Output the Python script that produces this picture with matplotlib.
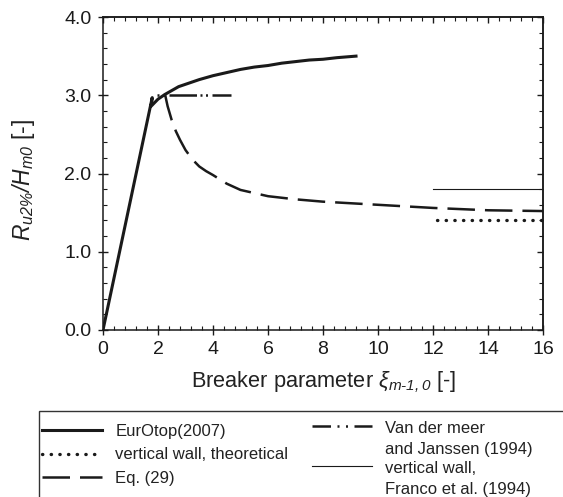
import matplotlib
matplotlib.use("Agg")
import matplotlib.pyplot as plt
from matplotlib.ticker import MultipleLocator, FormatStrFormatter
from matplotlib.patches import Rectangle
from matplotlib.legend_handler import HandlerLine2D

plt.rcParams['font.family'] = ['Liberation Sans', 'DejaVu Sans']
plt.rcParams['mathtext.fontset'] = 'custom'
plt.rcParams['mathtext.it'] = 'Liberation Sans:italic'
plt.rcParams['mathtext.rm'] = 'Liberation Sans:italic'

# values
eurotop_x = [0, 1.79, 1.75, 2.0, 2.25, 2.5, 2.75, 3.0, 3.5, 4.0, 4.5, 5.0, 5.5,
             6.0, 6.5, 7.0, 7.5, 8.0, 8.5, 9.2]
eurotop_y = [0, 2.97, 2.86, 2.95, 3.01, 3.06, 3.11, 3.14, 3.20, 3.25, 3.29, 3.33,
             3.36, 3.38, 3.41, 3.43, 3.45, 3.46, 3.48, 3.50]

vdm_x = [1.95, 4.65]
vdm_y = [3.0, 3.0]

eq29_x = [2.25, 2.35, 2.5, 2.65, 2.8, 3.0, 3.25, 3.5, 3.75, 4.0, 4.5, 5.0, 5.5,
          6.0, 7.0, 8.0, 9.0, 10.0, 11.0, 12.0, 13.0, 14.0, 15.0, 16.0]
eq29_y = [3.02, 2.86, 2.68, 2.54, 2.43, 2.30, 2.18, 2.09, 2.03, 1.98, 1.87, 1.79,
          1.75, 1.71, 1.67, 1.64, 1.62, 1.60, 1.58, 1.56, 1.545, 1.53, 1.525, 1.52]

theo_x = [12.15, 16.0]
theo_y = [1.4, 1.4]

franco_x = [12.0, 16.0]
franco_y = [1.8, 1.8]

labels_left = ["EurOtop(2007)", "vertical wall, theoretical", "Eq. (29)"]
labels_right = ["Van der meer\nand Janssen (1994)", "vertical wall,\nFranco et al. (1994)"]


class FirstLineHandler(HandlerLine2D):
    # put the handle level with the first text line of a two-line label
    def create_artists(self, legend, orig_handle, xdescent, ydescent, width,
                       height, fontsize, trans):
        return super().create_artists(legend, orig_handle, xdescent, ydescent - 19,
                                      width, height, fontsize, trans)


c = '#1a1a1a'
W, H = 563, 497
fig = plt.figure(figsize=(W / 100, H / 100), dpi=100)
ax = fig.add_axes([103 / W, 1 - 330 / H, 440 / W, 313 / H])

l1, = ax.plot(eurotop_x, eurotop_y, color=c, lw=2.2, solid_joinstyle='round')
l2, = ax.plot(theo_x, theo_y, color=c, lw=2.4, linestyle=(0, (0.1, 2.5)),
              dash_capstyle='round', clip_on=False)
l3, = ax.plot(eq29_x, eq29_y, color=c, lw=1.8, dashes=(11, 4))
l4, = ax.plot(vdm_x, vdm_y, color=c, lw=1.8,
              linestyle=(0, (0.8, 1.4, 0.8, 1.8, 11, 1.4)))
l5, = ax.plot(franco_x, franco_y, color=c, lw=0.8)

ax.set_xlim(0, 16)
ax.set_ylim(0, 4)
ax.xaxis.set_major_locator(MultipleLocator(2))
ax.xaxis.set_minor_locator(MultipleLocator(0.4))
ax.yaxis.set_major_locator(MultipleLocator(1))
ax.yaxis.set_minor_locator(MultipleLocator(0.2))
ax.yaxis.set_major_formatter(FormatStrFormatter('%.1f'))

for s in ax.spines.values():
    s.set_linewidth(1.1)
    s.set_color(c)

ax.tick_params(which='major', direction='inout', length=6.5, width=1.0,
               labelsize=14, colors=c, pad=5)
ax.tick_params(which='minor', direction='in', length=3, width=0.8, colors=c)

# top and right: inward ticks only
top = ax.secondary_xaxis('top')
top.xaxis.set_major_locator(MultipleLocator(2))
top.xaxis.set_minor_locator(MultipleLocator(0.4))
right = ax.secondary_yaxis('right')
right.yaxis.set_major_locator(MultipleLocator(1))
right.yaxis.set_minor_locator(MultipleLocator(0.2))
for sec in (top, right):
    sec.tick_params(which='major', direction='in', length=4, width=1.0, colors=c,
                    labeltop=False, labelright=False)
    sec.tick_params(which='minor', direction='in', length=3, width=0.8, colors=c)
    for s in sec.spines.values():
        s.set_linewidth(1.1)
        s.set_color(c)

ax.set_xlabel(r'Breaker parameter $\xi_{m\text{-}1,0}$ [-]', fontsize=15.7,
              color='#222222', labelpad=8)
ax.set_ylabel(r'$R_{u2\%}/H_{m0}$ [-]', fontsize=16.5, color='#222222')
ax.yaxis.set_label_coords(-0.15, 0.48)

# legend frame, cut by the figure edge like the reference
fig.add_artist(Rectangle((39 / W, -0.2), 1.0, 0.2 + 1 - 411 / H,
                         transform=fig.transFigure, fill=False,
                         edgecolor='#333333', lw=1.0))

leg_kw = dict(frameon=False, fontsize=12, handlelength=3.6, handletextpad=0.8,
              borderaxespad=0, borderpad=0, labelcolor='#222222')
fig.legend([l1, l2, l3], labels_left, loc='upper left',
           bbox_to_anchor=(42 / W, 1 - 424 / H), labelspacing=0.5, **leg_kw)
leg2 = fig.legend([l4, l5], labels_right, loc='upper left',
                  bbox_to_anchor=(312 / W, 1 - 421 / H), labelspacing=0.25,
                  handler_map={l4: FirstLineHandler(), l5: FirstLineHandler()},
                  **leg_kw)
for t in leg2.get_texts():
    t.set_linespacing(1.5)
# the legend sample shows dash first: "—— · · ——"
leg2.legend_handles[0].set_linestyle((0, (7.4, 2.6, 0.8, 2.6, 0.8, 2.6)))

fig.savefig('out.png', dpi=100)
